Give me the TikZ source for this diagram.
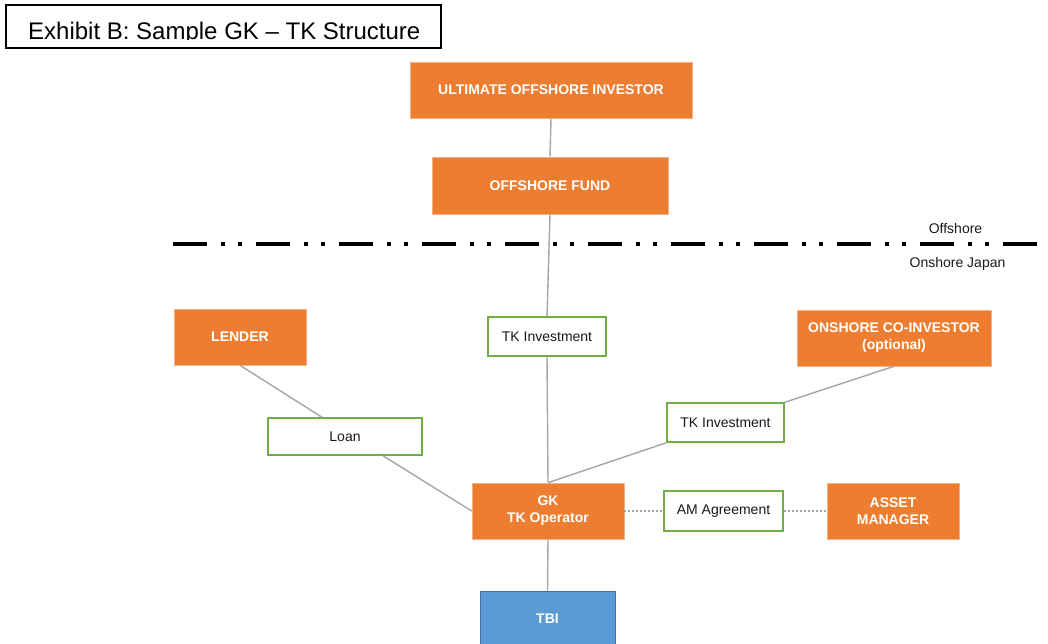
\documentclass[tikz,border=0pt]{standalone}
\usepackage{fontspec}
\setmainfont{Liberation Sans}
\definecolor{partyorange}{RGB}{237,125,49}
\definecolor{tbiblue}{RGB}{91,155,213}
\definecolor{tbiedge}{RGB}{65,113,156}
\definecolor{dealgreen}{RGB}{112,173,71}
\definecolor{linkgray}{RGB}{165,165,165}
\tikzset{
	party/.style={fill=partyorange, draw=partyorange!60!white, line width=0.6pt, text=white,
		font=\fontsize{14}{17}\selectfont\bfseries, align=center, inner sep=0pt},
	tbibox/.style={party, fill=tbiblue, draw=tbiedge},
	deal/.style={draw=dealgreen, line width=1.5pt, fill=white, text=black!90,
		font=\fontsize{14}{17}\selectfont, inner sep=0pt},
	zonelabel/.style={text=black!90, font=\fontsize{14}{17}\selectfont, inner sep=0pt},
	link/.style={draw=linkgray, line width=1.4pt},
	amlink/.style={draw=linkgray, line width=1.2pt, dash pattern=on 2pt off 2pt},
	shoreline/.style={line width=4pt, dash pattern=on 34pt off 14pt on 4pt off 13pt on 4pt off 14pt}
}

\begin{document}
\begin{tikzpicture}[x=1pt, y=-1pt]
		%%%%% START %%%%%
		\useasboundingbox (0, 0) rectangle (1048, 643);
		
		% title
		\node[draw, line width=1.5pt, minimum width=435pt, minimum height=43pt] (title) at (223.5, 26.5) {};
		\begin{scope}
			\clip (6, 5) rectangle (441, 39.5);
			\node[anchor=base west, inner sep=0pt, font=\fontsize{24}{28}\selectfont] (titletext) at (28, 39) {Exhibit B: Sample GK \textendash{} TK Structure};
		\end{scope}
		
		% offshore / onshore border
		\coordinate (shoreL) at (173, 244);
		\coordinate (shoreR) at (1037, 244);
		\draw[shoreline] (shoreL) -- (shoreR);
		\node[zonelabel] (offshore) at (955.5, 228) {Offshore};
		\node[zonelabel] (onshore) at (957.5, 264) {Onshore Japan};
		
		% parties
		\node[party, minimum width=282pt, minimum height=56pt] (ultimate) at (551, 90) {ULTIMATE OFFSHORE INVESTOR};
		\node[party, minimum width=236pt, minimum height=57pt] (fund) at (550, 185.5) {OFFSHORE FUND};
		\node[party, minimum width=132pt, minimum height=56pt] (lender) at (240, 337) {LENDER};
		\node[party, minimum width=194pt, minimum height=56pt] (coinv) at (894, 338) {ONSHORE CO-INVESTOR\\(optional)};
		\node[party, minimum width=152pt, minimum height=56pt] (gk) at (548, 511) {GK\\TK Operator};
		\node[party, minimum width=132pt, minimum height=56pt] (manager) at (893, 511) {ASSET\\MANAGER};
		\node[tbibox, minimum width=135pt, minimum height=56pt] (tbi) at (547.5, 619) {TBI};
		
		% agreements
		\node[deal, minimum width=118pt, minimum height=39pt] (tkfund) at (547, 336.5) {TK Investment};
		\node[deal, minimum width=117pt, minimum height=39pt] (tkco) at (725.5, 422.5) {TK Investment};
		\node[deal, minimum width=154pt, minimum height=37pt] (loan) at (345, 436.5) {Loan};
		\node[deal, minimum width=119pt, minimum height=40pt] (am) at (723.5, 511) {AM Agreement};
		
		% links
		\draw[link] (ultimate.south) -- (fund.north);
		\draw[link] (fund.south) -- (tkfund.north);
		\draw[link] (tkfund.south) -- (gk.north);
		\draw[link] (lender.south) -- ([xshift=-23pt]loan.north);
		\draw[link] ([xshift=38pt]loan.south) -- (gk.west);
		\draw[link] (coinv.south) -- (tkco.north east);
		\draw[link] (tkco.south west) -- (gk.north);
		\draw[link] (gk.south) -- (tbi.north);
		\draw[amlink] (gk.east) -- (am.west);
		\draw[amlink] (am.east) -- (manager.west);
		
		%%%%% END %%%%%
	\end{tikzpicture}
\end{document}
